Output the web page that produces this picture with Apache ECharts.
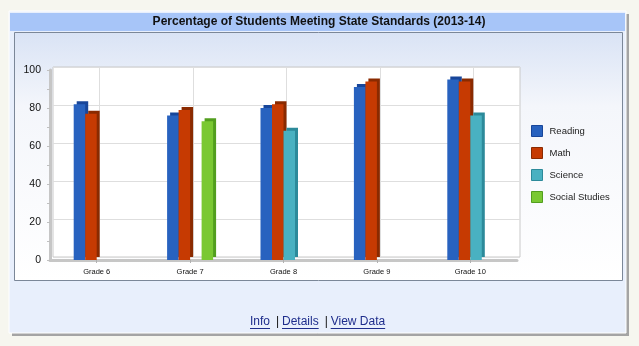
<!DOCTYPE html>
<html>
<head>
<meta charset="utf-8">
<script src="https://cdn.jsdelivr.net/npm/echarts@6/dist/echarts.min.js"></script>
<style>
html,body{margin:0;padding:0;background:#f6f6ef;}
#c{width:639px;height:346px;}
</style>
</head>
<body>
<div id="c"></div>
<script>
const titleText = 'Percentage of Students Meeting State Standards (2013-14)';
const categories = ['Grade 6', 'Grade 7', 'Grade 8', 'Grade 9', 'Grade 10'];
const seriesNames = ['Reading', 'Math', 'Science', 'Social Studies'];
const reading = [82, 76, 80, 91, 95];
const math = [77, 79, 82, 94, 94];
const science = [null, null, 68, null, 76];
const socialStudies = [null, 73, null, null, null];
const yTicks = [0, 20, 40, 60, 80, 100];
const footerLinks = ['Info', 'Details', 'View Data'];

const seriesValues = [reading, math, science, socialStudies];
const frontColors = ['#2862bf', '#c63a02', '#49b1c1', '#7ac832'];
const sideColors = ['#18469a', '#8a2a00', '#2c8a9a', '#529e1e'];

const chart = echarts.init(document.getElementById('c'), null, {renderer: 'canvas'});

// measure text widths for footer underline
const mctx = document.createElement('canvas').getContext('2d');
const footFont = '12px "Liberation Sans", Arial, sans-serif';
mctx.font = footFont;
const footerGraphic = [];
let fx = 250;
footerLinks.forEach((t, i) => {
  const w = mctx.measureText(t).width;
  footerGraphic.push({type: 'text', x: fx, y: 322, z: 20,
    style: {text: t, font: footFont, fill: '#1e2d8c', verticalAlign: 'middle', align: 'left'}});
  footerGraphic.push({type: 'line', z: 20, shape: {x1: fx, y1: 328.5, x2: fx + w, y2: 328.5},
    style: {stroke: '#1e2d8c', lineWidth: 1}});
  fx += w;
  if (i < footerLinks.length - 1) {
    footerGraphic.push({type: 'text', x: fx + 6, y: 322, z: 20,
      style: {text: '|', font: footFont, fill: '#111', verticalAlign: 'middle', align: 'left'}});
    fx += 12;
  }
});

const option = {
  animation: false,
  backgroundColor: '#f6f6ef',
  graphic: [
    // panel shadow
    {type: 'rect', z: -20, shape: {x: 12, y: 14, width: 617, height: 322}, style: {fill: '#a4a4a4'}},
    // panel
    {type: 'rect', z: -19, shape: {x: 9, y: 11, width: 617, height: 322}, style: {fill: '#e8effc', stroke: '#ffffff', lineWidth: 1}},
    // title bar
    {type: 'rect', z: -18, shape: {x: 10, y: 13, width: 615, height: 18}, style: {fill: '#a7c5f8'}},
    // inner box
    {type: 'rect', z: -17, shape: {x: 14.5, y: 32.5, width: 608, height: 248},
      style: {
        fill: {type: 'linear', x: 0, y: 0, x2: 0, y2: 1, colorStops: [
          {offset: 0, color: '#d9e3f5'}, {offset: 0.3, color: '#f4f6fb'}, {offset: 1, color: '#ffffff'}]},
        stroke: '#7b8798', lineWidth: 1}},
    {type: 'text', x: 319, y: 22, z: 20,
      style: {text: titleText, font: 'bold 12px "Liberation Sans", Arial, sans-serif',
        fill: '#111', align: 'center', verticalAlign: 'middle'}}
  ].concat(footerGraphic),
  legend: {
    orient: 'vertical', left: 531, top: 125, padding: 0,
    itemWidth: 11, itemHeight: 11, itemGap: 10,
    textStyle: {fontSize: 9.5, color: '#222', lineHeight: 11, fontFamily: '"Liberation Sans", Arial, sans-serif', padding: [0, 0, 0, 2]},
    itemStyle: {shadowBlur: 0, shadowOffsetX: 0, shadowOffsetY: 0, shadowColor: 'rgba(0,0,0,0)'},
    data: seriesNames.map((n, i) => ({name: n, icon: 'rect',
      itemStyle: {color: frontColors[i], borderColor: sideColors[i], borderWidth: 1}}))
  },
  grid: [
    {left: 50, right: 122, top: 70, bottom: 86, show: false},
    {left: 53, right: 119, top: 67, bottom: 89, show: true, backgroundColor: '#ffffff', borderColor: '#c9c9c9', borderWidth: 1}
  ],
  xAxis: [
    {type: 'category', gridIndex: 0, data: categories,
      axisLine: {show: true, lineStyle: {color: '#c6c6c6', width: 3}},
      axisTick: {show: true, alignWithLabel: true, length: 3, lineStyle: {color: '#b0b0b0'}},
      axisLabel: {fontSize: 7.5, color: '#111', margin: 8, fontFamily: '"Liberation Sans", Arial, sans-serif'},
      splitLine: {show: false}},
    {type: 'category', gridIndex: 1, data: categories,
      axisLine: {show: false}, axisTick: {show: false}, axisLabel: {show: false},
      splitLine: {show: true, alignWithLabel: true, lineStyle: {color: '#dedede', width: 1}}}
  ],
  yAxis: [
    {type: 'value', gridIndex: 0, min: yTicks[0], max: yTicks[yTicks.length - 1], interval: 20,
      axisLine: {show: true, lineStyle: {color: '#c6c6c6', width: 3}},
      axisTick: {show: true, length: 3, lineStyle: {color: '#c0c0c0'}},
      minorTick: {show: true, splitNumber: 2, length: 3, lineStyle: {color: '#c0c0c0'}},
      axisLabel: {fontSize: 10.5, color: '#111', margin: 9, fontFamily: '"Liberation Sans", Arial, sans-serif'},
      splitLine: {show: false}},
    {type: 'value', gridIndex: 1, min: yTicks[0], max: yTicks[yTicks.length - 1], interval: 20,
      axisLine: {show: false}, axisTick: {show: false}, axisLabel: {show: false},
      splitLine: {show: true, lineStyle: {color: '#dedede', width: 1}}}
  ],
  series: seriesNames.map((n, i) => ({
    name: n, type: 'bar', xAxisIndex: 0, yAxisIndex: 0,
    data: seriesValues[i],
    barWidth: 11.5, barGap: '0%',
    itemStyle: {color: frontColors[i], shadowColor: sideColors[i], shadowBlur: 0, shadowOffsetX: 3, shadowOffsetY: -3},
    emphasis: {disabled: true}
  }))
};
chart.setOption(option);
</script>
</body>
</html>
